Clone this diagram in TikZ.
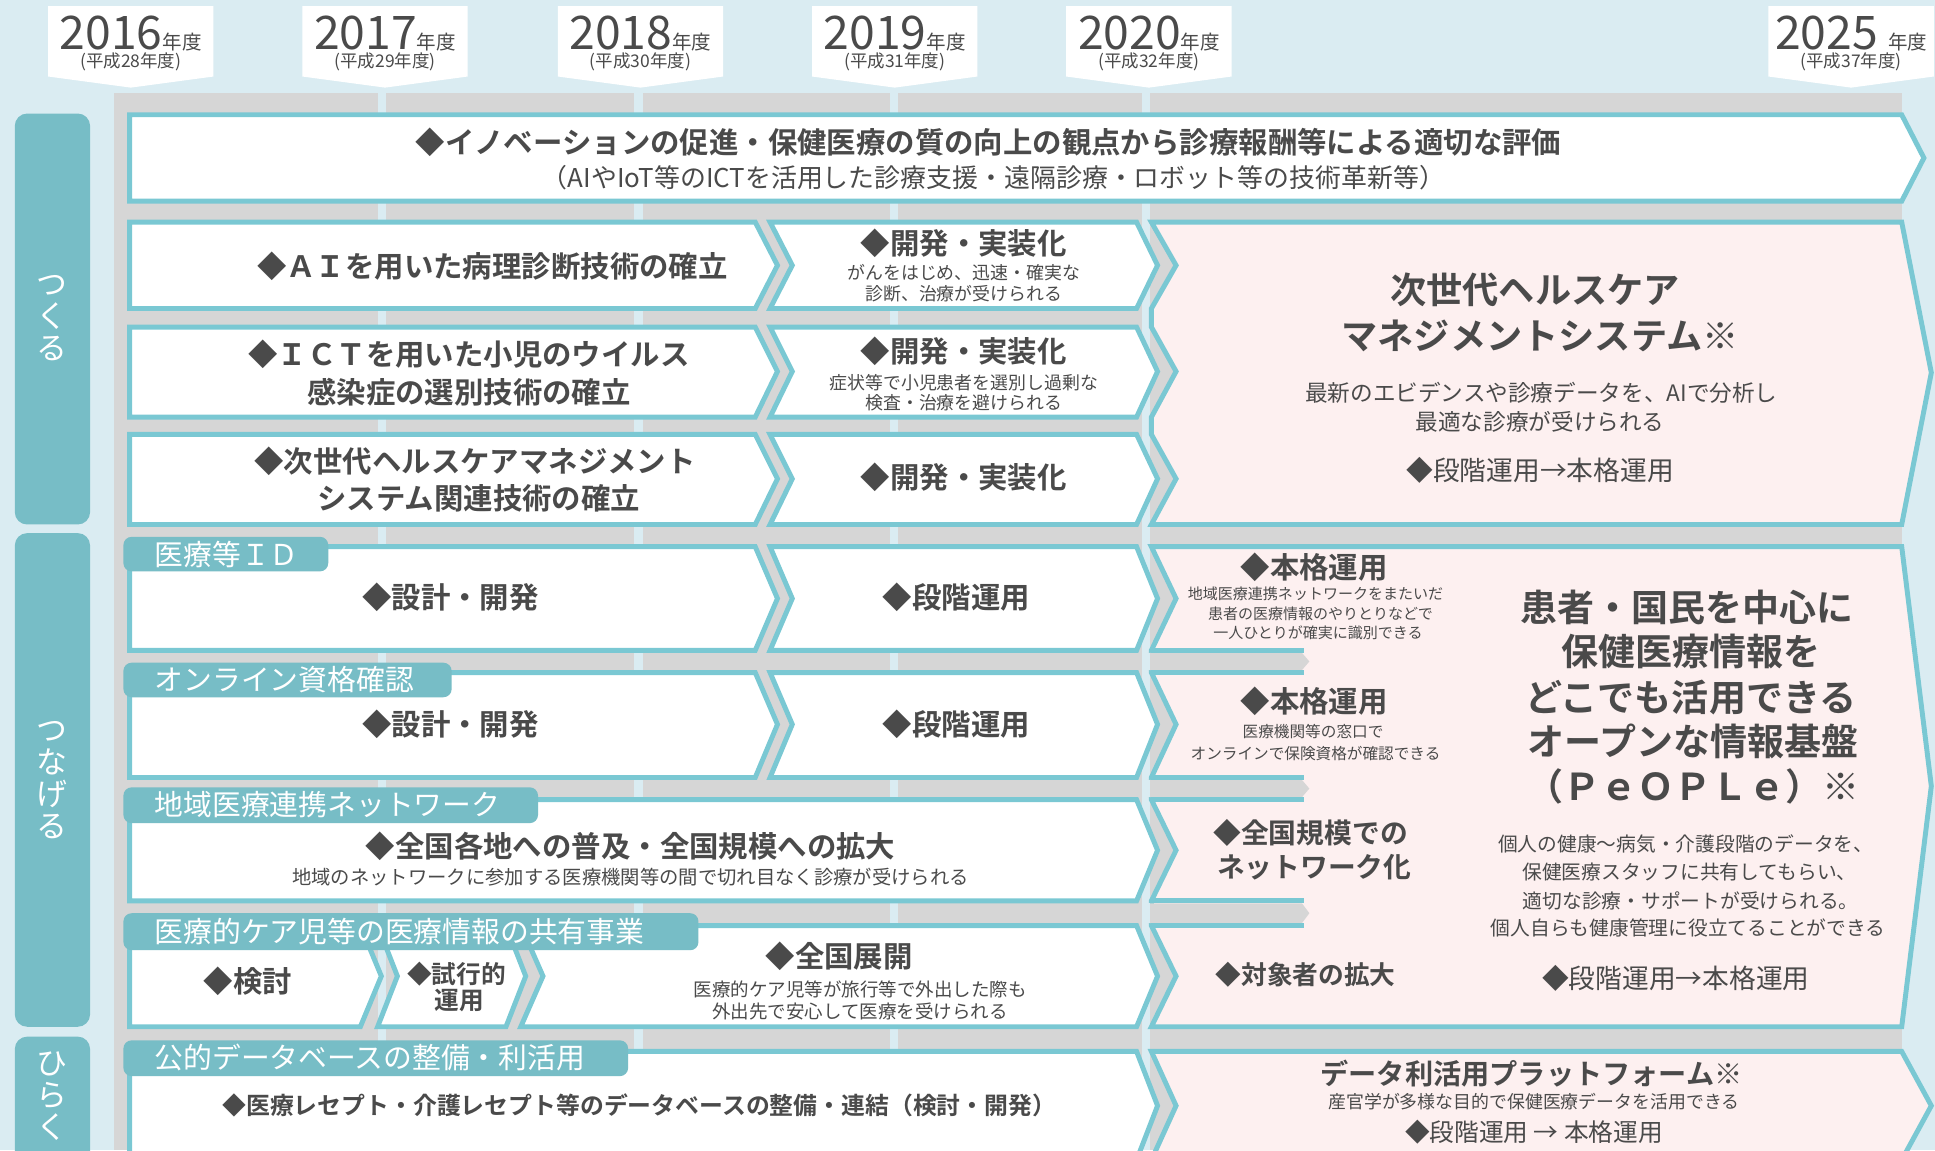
\documentclass[tikz,border=0pt]{standalone}
\usepackage{fontspec}
\setmainfont{Noto Sans CJK JP}[BoldFont={Noto Sans CJK JP Bold}]
\definecolor{sky}{HTML}{DAECF2}
\definecolor{band}{HTML}{D6D6D6}
\definecolor{edge}{HTML}{7AC8D3}
\definecolor{tabteal}{HTML}{77BDC6}
\definecolor{blush}{HTML}{FDF0F0}
\definecolor{ink}{HTML}{4A4A4A}
\begin{document}
\begin{tikzpicture}[x=0.6pt,y=-0.6pt,
    box/.style={fill=white,draw=edge,line width=2.4pt,line join=miter},
    pinkbox/.style={box,fill=blush},
    tab/.style={fill=tabteal,rounded corners=4pt},
    bar/.style={fill=tabteal,rounded corners=6pt},
    yeartab/.style={fill=white},
    txtb/.style={text=ink,inner sep=0pt,font=\fontsize{#1}{#1}\selectfont\bfseries},
    txtr/.style={text=ink,inner sep=0pt,font=\fontsize{#1}{#1}\selectfont},
    tabtxt/.style={text=white,inner sep=0pt,anchor=west,font=\fontsize{14}{14}\selectfont},
    cattxt/.style={text=white,inner sep=0pt,align=center,font=\fontsize{15}{15.5}\selectfont}]
  \useasboundingbox (0,0) rectangle (1568,932);
  \clip (0,0) rectangle (1568,932);
  \fill[sky] (0,0) rectangle (1568,932);
  \fill[band] (92,75) rectangle (1541,932);
  \fill[sky] (306,75) rectangle (313,932);
  \fill[sky] (514,75) rectangle (521,932);
  \fill[sky] (721,75) rectangle (728,932);
  \fill[sky] (925,75) rectangle (932,932);

  \fill[yeartab] (39,5) -- (173,5) -- (173,62) -- (106,71) -- (39,62) -- cycle;
  \fill[yeartab] (245,5) -- (379,5) -- (379,62) -- (312,71) -- (245,62) -- cycle;
  \fill[yeartab] (452,5) -- (586,5) -- (586,62) -- (519,71) -- (452,62) -- cycle;
  \fill[yeartab] (658,5) -- (792,5) -- (792,62) -- (725,71) -- (658,62) -- cycle;
  \fill[yeartab] (864,5) -- (998,5) -- (998,62) -- (931,71) -- (864,62) -- cycle;
  \fill[yeartab] (1433,5) -- (1567,5) -- (1567,62) -- (1500,71) -- (1433,62) -- cycle;
  \node[txtr=22.5] (y2016) at (106,27) {2016\fontsize{9.5}{10}\selectfont 年度};
  \node[txtr=22.5] (y2017) at (312,27) {2017\fontsize{9.5}{10}\selectfont 年度};
  \node[txtr=22.5] (y2018) at (519,27) {2018\fontsize{9.5}{10}\selectfont 年度};
  \node[txtr=22.5] (y2019) at (725,27) {2019\fontsize{9.5}{10}\selectfont 年度};
  \node[txtr=22.5] (y2020) at (931,27) {2020\fontsize{9.5}{10}\selectfont 年度};
  \node[txtr=22.5] (y2025) at (1500,27) {2025 \fontsize{9.5}{10}\selectfont 年度};
  \node[txtr=8.5] (h28) at (106,50) {(平成28年度)};
  \node[txtr=8.5] (h29) at (312,50) {(平成29年度)};
  \node[txtr=8.5] (h30) at (519,50) {(平成30年度)};
  \node[txtr=8.5] (h31) at (725,50) {(平成31年度)};
  \node[txtr=8.5] (h32) at (931,50) {(平成32年度)};
  \node[txtr=8.5] (h37) at (1500,50) {(平成37年度)};

  \fill[bar] (12,92) rectangle (73,425);
  \fill[bar] (12,432) rectangle (73,832);
  \fill[bar] (12,840) rectangle (73,960);
  \node[cattxt] (tsukuru) at (42,258) {つ\\く\\る};
  \node[cattxt] (tsunageru) at (42,632) {つ\\な\\げ\\る};
  \node[cattxt] (hiraku) at (42,888) {ひ\\ら\\く};

  \draw[box] (105,93) -- (1541,93) -- (1559,128) -- (1541,163) -- (105,163) -- cycle;
  \node[txtb=14.3] (eval) at (801,115) {◆イノベーションの促進・保健医療の質の向上の観点から診療報酬等による適切な評価};
  \node[txtr=12.6] (evalsub) at (805,144) {（AIやIoT等のICTを活用した診療支援・遠隔診療・ロボット等の技術革新等）};

  \draw[box] (105,180) -- (612,180) -- (630,215) -- (612,250) -- (105,250) -- cycle;
  \draw[box] (624,180) -- (921,180) -- (938,215) -- (921,250) -- (624,250) -- (642,215) -- cycle;
  \draw[box] (105,265) -- (612,265) -- (630,301) -- (612,338) -- (105,338) -- cycle;
  \draw[box] (624,265) -- (921,265) -- (938,301) -- (921,338) -- (624,338) -- (642,301) -- cycle;
  \draw[box] (105,352) -- (612,352) -- (630,388) -- (612,425) -- (105,425) -- cycle;
  \draw[box] (624,352) -- (921,352) -- (938,388) -- (921,425) -- (624,425) -- (642,388) -- cycle;
  \draw[pinkbox] (933,180) -- (1541,180) -- (1565,302) -- (1541,425) -- (933,425) -- (953,388)
    -- (933,352) -- (933,338) -- (953,301) -- (933,265) -- (933,250) -- (953,215) -- cycle;

  \node[txtb=14.3] (ai) at (399,216) {◆ＡＩを用いた病理診断技術の確立};
  \node[txtb=14.3] (aidev) at (781,197) {◆開発・実装化};
  \node[txtr=8.7] (aidev1) at (781,221) {がんをはじめ、迅速・確実な};
  \node[txtr=8.7] (aidev2) at (781,238) {診断、治療が受けられる};
  \node[txtb=14.3] (ict1) at (380,287) {◆ＩＣＴを用いた小児のウイルス};
  \node[txtb=14.3] (ict2) at (380,318) {感染症の選別技術の確立};
  \node[txtb=14.3] (ictdev) at (781,285) {◆開発・実装化};
  \node[txtr=8.7] (ictdev1) at (781,310) {症状等で小児患者を選別し過剰な};
  \node[txtr=8.7] (ictdev2) at (781,326) {検査・治療を避けられる};
  \node[txtb=14.3] (hc1) at (385,374) {◆次世代ヘルスケアマネジメント};
  \node[txtb=14.3] (hc2) at (388,404) {システム関連技術の確立};
  \node[txtb=14.3] (hcdev) at (781,387) {◆開発・実装化};
  \node[txtb=17.6] (hms1) at (1244,235) {次世代ヘルスケア};
  \node[txtb=17.6] (hms2) at (1248,272) {マネジメントシステム※};
  \node[txtr=11] (hms3) at (1249,318) {最新のエビデンスや診療データを、AIで分析し};
  \node[txtr=11] (hms4) at (1248,342) {最適な診療が受けられる};
  \node[txtr=13] (hms5) at (1248,381) {◆段階運用→本格運用};

  \draw[pinkbox] (933,443) -- (1541,443) -- (1565,637) -- (1541,832) -- (933,832) -- (953,791)
    -- (933,750) -- (933,730) -- (953,689) -- (933,648) -- (933,630) -- (953,587) -- (933,545)
    -- (933,527) -- (953,485) -- cycle;
  \fill[band] (930,529) -- (1055,529) -- (1061,536) -- (1055,543) -- (930,543) -- cycle;
  \fill[band] (930,632) -- (1055,632) -- (1061,639) -- (1055,646) -- (930,646) -- cycle;
  \fill[band] (930,732) -- (1055,732) -- (1061,740) -- (1055,748) -- (930,748) -- cycle;
  \fill[sky] (925,529) rectangle (932,543);
  \fill[sky] (925,632) rectangle (932,646);
  \fill[sky] (925,732) rectangle (932,748);
  \draw[edge,line width=2.4pt] (933,527) -- (1057,527) (933,545) -- (1057,545);
  \draw[edge,line width=2.4pt] (933,630) -- (1057,630) (933,648) -- (1057,648);
  \draw[edge,line width=2.4pt] (933,730) -- (1057,730) (933,750) -- (1057,750);

  \draw[box] (105,443) -- (612,443) -- (630,485) -- (612,527) -- (105,527) -- cycle;
  \draw[box] (624,443) -- (921,443) -- (938,485) -- (921,527) -- (624,527) -- (642,485) -- cycle;
  \draw[box] (105,545) -- (612,545) -- (630,587) -- (612,630) -- (105,630) -- cycle;
  \draw[box] (624,545) -- (921,545) -- (938,587) -- (921,630) -- (624,630) -- (642,587) -- cycle;
  \draw[box] (105,648) -- (921,648) -- (938,689) -- (921,730) -- (105,730) -- cycle;
  \draw[box] (105,750) -- (292,750) -- (309,791) -- (292,832) -- (105,832) -- cycle;
  \draw[box] (306,750) -- (410,750) -- (426,791) -- (410,832) -- (306,832) -- (322,791) -- cycle;
  \draw[box] (422,750) -- (921,750) -- (938,791) -- (921,832) -- (422,832) -- (440,791) -- cycle;

  \fill[tab] (100,435) rectangle (266,463);
  \fill[tab] (100,537) rectangle (366,565);
  \fill[tab] (100,638) rectangle (436,667);
  \fill[tab] (100,740) rectangle (566,770);
  \node[tabtxt] (idtab) at (125,449) {医療等ＩＤ};
  \node[tabtxt] (onlinetab) at (125,551) {オンライン資格確認};
  \node[tabtxt] (nettab) at (125,652) {地域医療連携ネットワーク};
  \node[tabtxt] (caretab) at (125,755) {医療的ケア児等の医療情報の共有事業};

  \node[txtb=14.3] (iddesign) at (365,484) {◆設計・開発};
  \node[txtb=14.3] (idstage) at (775,484) {◆段階運用};
  \node[txtb=14.3] (idfull) at (1065,460) {◆本格運用};
  \node[txtr=7.3] (idfull1) at (1066,481) {地域医療連携ネットワークをまたいだ};
  \node[txtr=7.3] (idfull2) at (1070,497) {患者の医療情報のやりとりなどで};
  \node[txtr=7.3] (idfull3) at (1068,513) {一人ひとりが確実に識別できる};
  \node[txtb=14.3] (oldesign) at (365,587) {◆設計・開発};
  \node[txtb=14.3] (olstage) at (775,587) {◆段階運用};
  \node[txtb=14.3] (olfull) at (1065,568) {◆本格運用};
  \node[txtr=7.6] (olfull1) at (1064,593) {医療機関等の窓口で};
  \node[txtr=7.6] (olfull2) at (1066,611) {オンラインで保険資格が確認できる};
  \node[txtb=14.3] (netspread) at (511,686) {◆全国各地への普及・全国規模への拡大};
  \node[txtr=9.4] (netspread1) at (511,711) {地域のネットワークに参加する医療機関等の間で切れ目なく診療が受けられる};
  \node[txtb=13.5] (netwide1) at (1062,675) {◆全国規模での};
  \node[txtb=13.5] (netwide2) at (1065,703) {ネットワーク化};
  \node[txtb=14.3] (carestudy) at (201,795) {◆検討};
  \node[txtb=12] (caretrial1) at (370,789) {◆試行的};
  \node[txtb=12] (caretrial2) at (372,811) {運用};
  \node[txtb=14.3] (careall) at (680,775) {◆全国展開};
  \node[txtr=9] (careall1) at (697,802) {医療的ケア児等が旅行等で外出した際も};
  \node[txtr=9] (careall2) at (697,820) {外出先で安心して医療を受けられる};
  \node[txtb=12.5] (careext) at (1058,790) {◆対象者の拡大};
  \node[txtr=13] (carestage) at (1358,793) {◆段階運用→本格運用};

  \node[txtb=18] (people1) at (1367,492) {患者・国民を中心に};
  \node[txtb=18] (people2) at (1370,528) {保健医療情報を};
  \node[txtb=18] (people3) at (1370,565) {どこでも活用できる};
  \node[txtb=18] (people4) at (1372,601) {オープンな情報基盤};
  \node[txtb=18] (people5) at (1372,637) {（ＰｅＯＰＬｅ）※};
  \node[txtr=9.6] (people6) at (1366,684) {個人の健康～病気・介護段階のデータを、};
  \node[txtr=9.6] (people7) at (1369,707) {保健医療スタッフに共有してもらい、};
  \node[txtr=9.6] (people8) at (1370,730) {適切な診療・サポートが受けられる。};
  \node[txtr=9.6] (people9) at (1368,752) {個人自らも健康管理に役立てることができる};

  \draw[box] (105,852) -- (921,852) -- (938,896) -- (921,940) -- (105,940) -- cycle;
  \draw[pinkbox] (933,852) -- (1541,852) -- (1565,896) -- (1541,940) -- (933,940) -- (953,896) -- cycle;
  \fill[tab] (100,843) rectangle (509,872);
  \node[tabtxt] (dbtab) at (125,857) {公的データベースの整備・利活用};
  \node[txtb=11.6] (dbbuild) at (518,896) {◆医療レセプト・介護レセプト等のデータベースの整備・連結（検討・開発）};
  \node[txtb=13.7] (platform1) at (1241,870) {データ利活用プラットフォーム※};
  \node[txtr=8.7] (platform2) at (1243,893) {産官学が多様な目的で保健医療データを活用できる};
  \node[txtr=12] (platform3) at (1243,917) {◆段階運用 → 本格運用};
\end{tikzpicture}
\end{document}
